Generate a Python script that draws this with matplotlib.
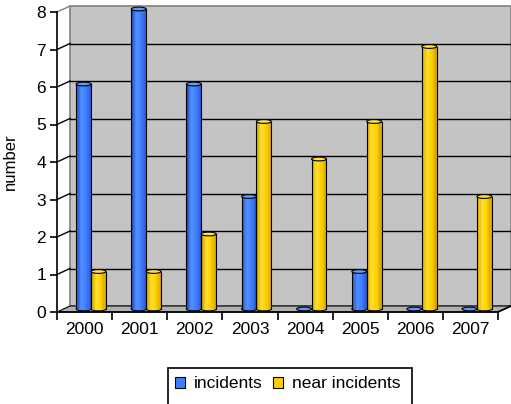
import numpy as np
import matplotlib.pyplot as plt
from matplotlib.patches import Rectangle, Ellipse, Polygon
from matplotlib.colors import LinearSegmentedColormap

years = ["2000", "2001", "2002", "2003", "2004", "2005", "2006", "2007"]
incidents = [6, 8, 6, 3, 0, 1, 0, 0]
near_incidents = [1, 1, 2, 5, 4, 5, 7, 3]

plt.rcParams["font.family"] = ["Liberation Sans", "DejaVu Sans"]

fig = plt.figure(figsize=(5.11, 4.04), dpi=100)
ax = fig.add_axes([57 / 511, 92 / 404, 441 / 511, 300 / 404])
ax.set_xlim(-0.5, len(years) - 0.5)
ax.set_ylim(0, 8)
ax.patch.set_visible(False)

# depth of the 3-D box in data units
dx, dy = 0.236, 0.16
x0, x1 = -0.5, len(years) - 0.5

# back wall and floor
ax.add_patch(Rectangle((x0 + dx, dy), x1 - x0, 8, facecolor="#c4c4c4",
                       edgecolor="#808080", lw=1.2, zorder=0, clip_on=False))
ax.add_patch(Polygon([(x0, 0), (x1, 0), (x1 + dx, dy), (x0 + dx, dy)],
                     closed=True, facecolor="#b0b0b0", edgecolor="black",
                     lw=0.8, zorder=1, clip_on=False))

# gridlines on back wall and left wall
for v in range(1, 8):
    ax.plot([x0 + dx, x1 + dx], [v + dy, v + dy], color="black", lw=1,
            zorder=1, clip_on=False)
for v in range(1, 9):
    ax.plot([x0, x0 + dx], [v, v + dy], color="black" if v < 8 else "#808080",
            lw=1, zorder=1, clip_on=False)

blue_cmap = LinearSegmentedColormap.from_list(
    "b", ["#2552c8", "#5090ff", "#407eff", "#2c5cd8"])
yellow_cmap = LinearSegmentedColormap.from_list(
    "y", ["#d8a800", "#ffe030", "#ffd000", "#d9a600"])

w = 0.27
cap_h = 0.1
n_strips = 12


def cylinder(xc, val, cmap, top_color):
    xb = xc + dx / 2
    y0 = dy / 2
    left = xb - w / 2
    if val > 0:
        ax.add_patch(Ellipse((xb, y0), w, cap_h, facecolor=cmap(0.6),
                             edgecolor="black", lw=0.8, zorder=3, clip_on=False))
        sw = w / n_strips
        for k in range(n_strips):
            ax.add_patch(Rectangle((left + k * sw, y0), sw * 1.02, val,
                                   facecolor=cmap(k / (n_strips - 1)),
                                   edgecolor="none", zorder=4, clip_on=False))
        ax.plot([left, left], [y0, y0 + val], color="black", lw=0.8, zorder=5,
                clip_on=False)
        ax.plot([left + w, left + w], [y0, y0 + val], color="black", lw=0.8,
                zorder=5, clip_on=False)
    ax.add_patch(Ellipse((xb, y0 + val), w, cap_h, facecolor=top_color,
                         edgecolor="black", lw=0.8, zorder=6, clip_on=False))


xs = np.arange(len(years))
for i in range(len(years)):
    cylinder(xs[i] - 0.135, incidents[i], blue_cmap, "#6098ff")
    cylinder(xs[i] + 0.135, near_incidents[i], yellow_cmap, "#ffe24a")

# axes, ticks and labels
for s in ["top", "right"]:
    ax.spines[s].set_visible(False)
ax.spines["left"].set_linewidth(1.2)
ax.spines["bottom"].set_linewidth(1.2)
ax.spines["left"].set_zorder(7)
ax.spines["bottom"].set_zorder(7)
ax.plot([x1, x1 + dx], [0, dy], color="black", lw=1.2, zorder=7, clip_on=False)

ax.set_yticks(range(9))
ax.tick_params(axis="y", direction="out", length=5, width=1.2, labelsize=12.5,
               pad=3)
ax.set_xticks(np.arange(-0.5, len(years)), labels=[])
ax.set_xticks(xs, labels=years, minor=True)
ax.tick_params(axis="x", which="major", direction="out", length=6, width=1.2)
ax.tick_params(axis="x", which="minor", length=0, labelsize=12.5, pad=7)
ax.set_ylabel("number", fontsize=12, labelpad=13)

# legend
fig.add_artist(Rectangle((168 / 511, -0.02), (412 - 168) / 511,
                         (404 - 368) / 404 + 0.02, transform=fig.transFigure,
                         facecolor="white", edgecolor="black", lw=1.2))
handles = [Rectangle((0, 0), 1, 1, facecolor="#407eff", edgecolor="black", lw=0.8),
           Rectangle((0, 0), 1, 1, facecolor="#ffd000", edgecolor="black", lw=0.8)]
fig.legend(handles, ["incidents", "near incidents"], ncol=2, frameon=False,
           loc="center left", bbox_to_anchor=(159 / 511, 1 - 384 / 404),
           fontsize=12.5, handlelength=0.6, handleheight=0.6,
           handletextpad=0.5, columnspacing=0.6)

fig.savefig("out.png", dpi=100)
